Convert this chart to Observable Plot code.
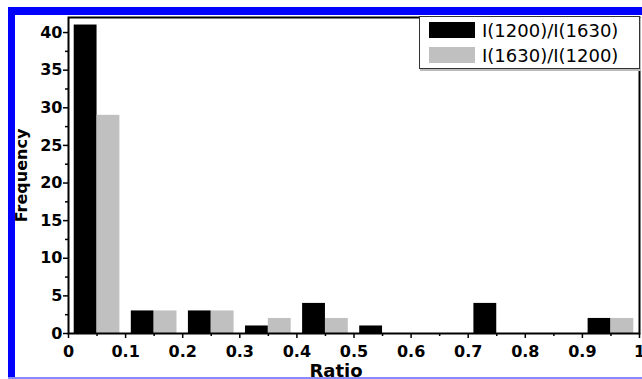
<!DOCTYPE html>
<html><head><meta charset="utf-8">
<script src="https://cdn.jsdelivr.net/npm/d3@7"></script>
<script src="https://cdn.jsdelivr.net/npm/@observablehq/plot@0.6"></script>
<style>
body{margin:0;background:#fff;}
#wrap{position:relative;width:642px;height:379px;overflow:hidden;background:#fff;}
#chart{position:absolute;left:0;top:0;}
#bl{position:absolute;left:8px;top:7px;width:7px;height:372px;background:#0000ff;}
#bt{position:absolute;left:8px;top:7px;width:634px;height:8px;background:#0000ff;}
#bb{position:absolute;left:8px;top:377px;width:634px;height:2px;background:#8888ff;}
#legend{position:absolute;left:419px;top:16px;width:219px;height:51px;border:1px solid #333;background:#fff;box-shadow:1px 2px 0 #bbb;font-family:"DejaVu Sans";font-size:18px;color:#000;}
.row{position:absolute;left:9px;display:flex;align-items:center;height:16px;white-space:nowrap;}
.sw{width:46px;height:16px;margin-right:7px;}
</style></head>
<body>
<div id="wrap">
  <div id="chart"></div>
  <div id="bl"></div><div id="bt"></div><div id="bb"></div>
  <div id="legend"></div>
</div>
<script>
const binStart = [0, 0.1, 0.2, 0.3, 0.4, 0.5, 0.6, 0.7, 0.8, 0.9];
const seriesNames = ["I(1200)/I(1630)", "I(1630)/I(1200)"];
const freqA = [41, 3, 3, 1, 4, 1, 0, 4, 0, 2];
const freqB = [29, 3, 3, 2, 2, 0, 0, 0, 0, 2];
const seriesColors = ["#000000", "#c0c0c0"];
const xTicks = [0, 0.1, 0.2, 0.3, 0.4, 0.5, 0.6, 0.7, 0.8, 0.9, 1];
const xTickLabels = ["0", "0.1", "0.2", "0.3", "0.4", "0.5", "0.6", "0.7", "0.8", "0.9", "1"];
const xMinorTicks = [0.05, 0.15, 0.25, 0.35, 0.45, 0.55, 0.65, 0.75, 0.85, 0.95];
const yTicks = [0, 5, 10, 15, 20, 25, 30, 35, 40];
const yMinorTicks = [2.5, 7.5, 12.5, 17.5, 22.5, 27.5, 32.5, 37.5];
const xLabel = "Ratio";
const yLabel = "Frequency";

const rows = binStart.flatMap((b, i) => [
  {x1: b + 0.01, x2: b + 0.05, y: freqA[i], s: 0},
  {x1: b + 0.05, x2: b + 0.09, y: freqB[i], s: 1}
]).filter(d => d.y > 0);

const chart = Plot.plot({
  width: 642, height: 379,
  marginTop: 17, marginLeft: 68, marginRight: 3, marginBottom: 46,
  x: {domain: [0, 1]},
  y: {domain: [0, 42]},
  style: {fontFamily: "DejaVu Sans", fontWeight: "bold", fontSize: "16px", color: "#000", background: "transparent", overflow: "visible"},
  marks: [
    Plot.rectY(rows, {x1: "x1", x2: "x2", y: "y", fill: d => seriesColors[d.s]}),
    Plot.axisX(xMinorTicks, {tickSize: 3, tickFormat: () => "", strokeWidth: 1.5, label: null}),
    Plot.axisX(xTicks, {tickSize: 5, tickPadding: 7, tickFormat: (d, i) => xTickLabels[i], strokeWidth: 1.5, label: null, fontSize: 16, fontWeight: "bold"}),
    Plot.axisY(yMinorTicks, {tickSize: 3, tickFormat: () => "", strokeWidth: 1.5, label: null}),
    Plot.axisY(yTicks, {tickSize: 5, tickPadding: 1, strokeWidth: 1.5, label: null, fontSize: 16, fontWeight: "bold"}),
    Plot.frame({stroke: "#000", strokeWidth: 2}),
    Plot.text([yLabel], {frameAnchor: "left", textAnchor: "middle", lineAnchor: "middle", rotate: -90, dx: -47, fontSize: 16, fontWeight: "bold"}),
    Plot.text([xLabel], {frameAnchor: "bottom", textAnchor: "middle", lineAnchor: "middle", dy: 38, dx: -18, fontSize: 18, fontWeight: "bold"})
  ]
});
document.getElementById("chart").appendChild(chart);

const legend = document.getElementById("legend");
seriesNames.forEach((name, i) => {
  const row = document.createElement("div");
  row.className = "row";
  row.style.top = (5 + i * 25) + "px";
  const sw = document.createElement("div");
  sw.className = "sw";
  sw.style.background = seriesColors[i];
  const t = document.createElement("span");
  t.textContent = name;
  row.appendChild(sw); row.appendChild(t);
  legend.appendChild(row);
});
</script>
</body></html>
